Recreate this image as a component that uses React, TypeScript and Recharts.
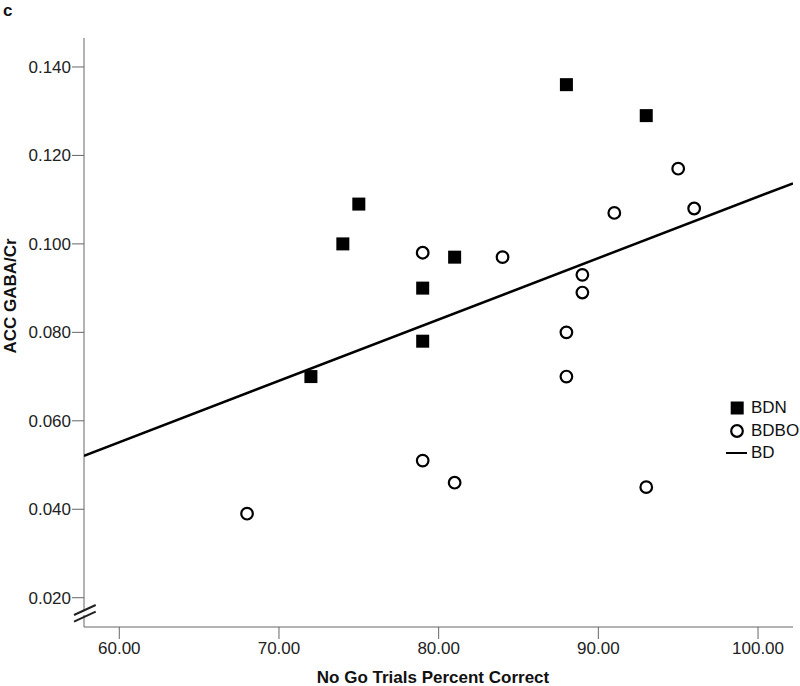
import { Scatter, ScatterChart, XAxis, YAxis } from "recharts";

const FONT = '"Liberation Sans", Arial, sans-serif';

// BDN group (filled squares)
const bdnX = [72, 74, 75, 79, 79, 81, 88, 93];
const bdnY = [0.07, 0.1, 0.109, 0.09, 0.078, 0.097, 0.136, 0.129];

// BDBO group (open circles)
const bdboX = [68, 79, 79, 81, 84, 88, 88, 89, 89, 91, 93, 95, 96];
const bdboY = [0.039, 0.098, 0.051, 0.046, 0.097, 0.08, 0.07, 0.093, 0.089, 0.107, 0.045, 0.117, 0.108];

// BD fit line, end points
const fitX = [57.79, 102.19];
const fitY = [0.0521, 0.1137];

const xTicks = [60, 70, 80, 90, 100];
const yTicks = [0.02, 0.04, 0.06, 0.08, 0.1, 0.12, 0.14];

const zip = (xs: number[], ys: number[]) => xs.map((x, i) => ({ x, y: ys[i] }));

const bdn = zip(bdnX, bdnY);
const bdbo = zip(bdboX, bdboY);
const fit = zip(fitX, fitY);

const Square = (props: any) => {
  const { cx, cy } = props;
  if (cx == null || cy == null) return <g />;
  return <rect x={cx - 6.5} y={cy - 6.5} width={13} height={13} fill="#000" />;
};

const Ring = (props: any) => {
  const { cx, cy } = props;
  if (cx == null || cy == null) return <g />;
  return <circle cx={cx} cy={cy} r={5.8} fill="#fff" stroke="#000" strokeWidth={2.2} />;
};

const NoDot = () => <g />;

const legendItems = [
  { name: "BDN", kind: "square" },
  { name: "BDBO", kind: "circle" },
  { name: "BD", kind: "line" },
];

function ChartLegend() {
  return (
    <div
      style={{
        position: "absolute",
        left: 726,
        top: 397,
        fontFamily: FONT,
        fontSize: 17,
        color: "#111",
      }}
    >
      {legendItems.map((item) => (
        <div key={item.name} style={{ display: "flex", alignItems: "center", height: 22.5 }}>
          <svg width={21} height={16} style={{ display: "block" }}>
            {item.kind === "square" && <rect x={4.7} y={1.5} width={13} height={13} fill="#000" />}
            {item.kind === "circle" && <circle cx={11} cy={8} r={5.8} fill="#fff" stroke="#000" strokeWidth={2.2} />}
            {item.kind === "line" && <line x1={0} x2={21} y1={8} y2={8} stroke="#000" strokeWidth={2} />}
          </svg>
          <span style={{ marginLeft: 4 }}>{item.name}</span>
        </div>
      ))}
    </div>
  );
}

export default function App() {
  return (
    <div style={{ position: "absolute", left: 0, top: 0, width: 800, height: 686, background: "#fff" }}>
      <ScatterChart width={800} height={686} margin={{ top: 38, right: 7, bottom: 0, left: 0 }}>
        <XAxis
          type="number"
          dataKey="x"
          domain={[57.79, 102.19]}
          ticks={xTicks}
          allowDataOverflow
          height={59}
          tickSize={12}
          tickMargin={3}
          tickFormatter={(v: number) => v.toFixed(2)}
          stroke="#666"
          tick={{ fill: "#222", fontSize: 17, fontFamily: FONT }}
        />
        <YAxis
          type="number"
          dataKey="y"
          domain={[0.01338, 0.14655]}
          ticks={yTicks}
          allowDataOverflow
          width={84}
          tickSize={12}
          tickMargin={1}
          tickFormatter={(v: number) => v.toFixed(3)}
          stroke="#666"
          tick={{ fill: "#222", fontSize: 17, fontFamily: FONT }}
        />
        <Scatter name="BD" data={fit} line={{ stroke: "#000", strokeWidth: 2.5 }} shape={NoDot} isAnimationActive={false} />
        <Scatter name="BDN" data={bdn} shape={Square} isAnimationActive={false} />
        <Scatter name="BDBO" data={bdbo} shape={Ring} isAnimationActive={false} />
      </ScatterChart>
      <ChartLegend />
      <svg
        width={800}
        height={686}
        style={{ position: "absolute", left: 0, top: 0, pointerEvents: "none" }}
      >
        <text x={3} y={16} fontFamily={FONT} fontWeight="bold" fontSize={17} fill="#111">
          c
        </text>
        {/* axis break marks */}
        <rect x={81} y={610} width={6} height={5} fill="#fff" />
        <line x1={74} y1={615} x2={95.7} y2={605} stroke="#222" strokeWidth={2} />
        <line x1={74} y1={621.7} x2={95.7} y2={611.7} stroke="#222" strokeWidth={2} />
        <text
          x={0}
          y={0}
          transform="translate(16 296) rotate(-90)"
          textAnchor="middle"
          fontFamily={FONT}
          fontWeight="bold"
          fontSize={17}
          fill="#111"
        >
          ACC GABA/Cr
        </text>
        <text x={433} y={683} textAnchor="middle" fontFamily={FONT} fontWeight="bold" fontSize={17} fill="#111">
          No Go Trials Percent Correct
        </text>
      </svg>
    </div>
  );
}
